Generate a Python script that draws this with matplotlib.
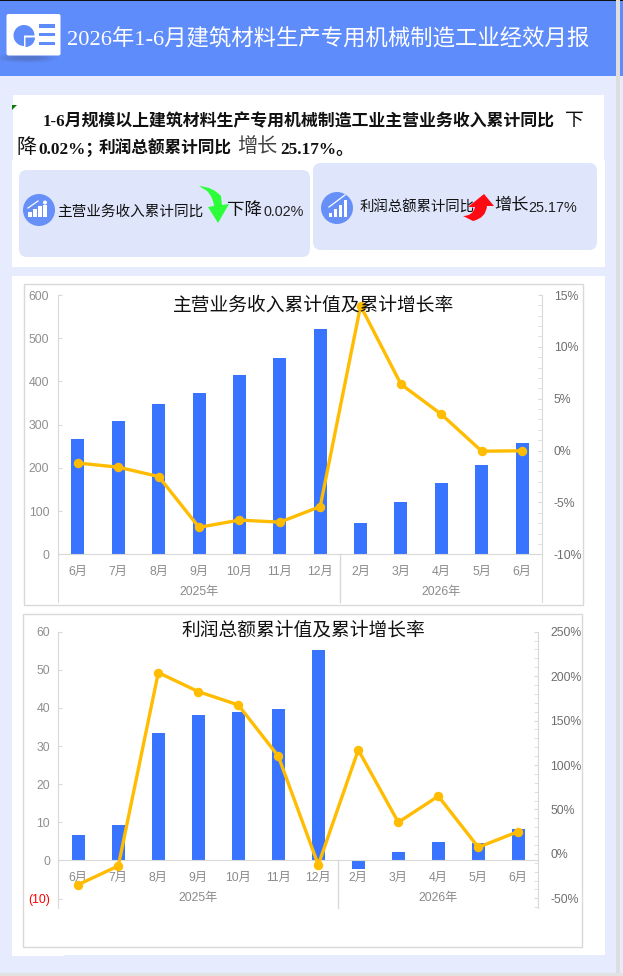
"""Monthly report page: header, summary cards and two combo charts."""
import matplotlib
matplotlib.use("Agg")
import matplotlib.pyplot as plt
from matplotlib.patches import Circle, FancyBboxPatch, PathPatch, Polygon, Rectangle, Wedge, Ellipse
from matplotlib.path import Path
from matplotlib.ticker import FixedLocator

W, H = 623, 976

months = ["6月", "7月", "8月", "9月", "10月", "11月", "12月", "2月", "3月", "4月", "5月", "6月"]
years = ["2025年", "2026年"]

revenue = [267, 308.5, 348, 373, 415, 454, 521, 72.5, 121, 165, 207, 257.5]
revenue_growth = [-1.2, -1.6, -2.5, -7.4, -6.7, -6.9, -5.4, 13.95, 6.4, 3.5, -0.06, -0.02]
revenue_ticks = [0, 100, 200, 300, 400, 500, 600]
revenue_tick_labels = ["0", "100", "200", "300", "400", "500", "600"]
revenue_growth_ticks = [-10, -5, 0, 5, 10, 15]

profit = [6.65, 9.3, 33.4, 38.2, 38.9, 39.7, 55.2, -2.3, 2.2, 4.8, 4.55, 8.2]
profit_growth = [-34.5, -13.5, 204, 182.6, 167.6, 110, -12.4, 117, 35.6, 65, 7.5, 25.17]
profit_ticks = [-10, 0, 10, 20, 30, 40, 50, 60]
profit_tick_labels = ["(10)", "0", "10", "20", "30", "40", "50", "60"]
profit_growth_ticks = [-50, 0, 50, 100, 150, 200, 250]

PAGE = "#E6ECFE"
HEADER = "#5F8CFB"
CARD = "#DFE6FC"
ICON = "#6690F8"
BAR = "#3874FF"
LINE = "#FFBC00"
AXIS = "#D9D9D9"

SERIF = ["Liberation Serif", "Noto Sans CJK SC"]
SANS = ["Liberation Sans", "Noto Sans CJK SC"]

plt.rcParams["font.family"] = SANS
plt.rcParams["axes.unicode_minus"] = False

fig = plt.figure(figsize=(W / 100, H / 100), dpi=100, facecolor=PAGE)

# page layer, in pixels with y pointing down
bg = fig.add_axes([0, 0, 1, 1], zorder=0)
bg.set_xlim(0, W)
bg.set_ylim(H, 0)
bg.axis("off")


def rect(x0, y0, x1, y1, color, **kw):
    bg.add_patch(Rectangle((x0, y0), x1 - x0, y1 - y0, facecolor=color, edgecolor="none", **kw))


def card(x0, y0, x1, y1):
    r = 8
    bg.add_patch(FancyBboxPatch((x0 + r, y0 + r), x1 - x0 - 2 * r, y1 - y0 - 2 * r,
                                boxstyle=f"round,pad={r},rounding_size={r}",
                                facecolor=CARD, edgecolor="none"))


def label(x, y, s, size, family=SANS, color="#111111", ha="left", weight="normal"):
    bg.text(x, y + 1.5, s, fontsize=size, family=family, color=color, ha=ha, va="center", weight=weight)


# header band
rect(0, 0, W, 76, HEADER)
rect(0, 0, W, 1.2, "#111111")
for i, a in enumerate([0.05, 0.08, 0.10, 0.12]):
    bg.add_patch(Ellipse((27, 58), 62 - i * 10, 10 - i * 2, facecolor="#404a70", alpha=a, edgecolor="none"))

# logo
bg.add_patch(FancyBboxPatch((8, 15.5), 51, 38.5, boxstyle="round,pad=1.5,rounding_size=2",
                            facecolor="white", edgecolor="none"))
bg.add_patch(Wedge((24, 35.5), 10.5, 90, 360, facecolor=HEADER, edgecolor="none"))
bg.add_patch(Wedge((25.5, 37.5), 9.5, 0, 90, facecolor=HEADER, edgecolor="none"))
for y in (26, 34.5, 43.5):
    rect(39, y - 1.6, 55, y + 1.6, HEADER)

label(67, 38.5, "2026年1-6月建筑材料生产专用机械制造工业经效月报", 16.1, SERIF, "white")

# white panels
rect(13, 95, 604, 165, "white")
rect(12, 160, 605, 267, "white")
rect(12, 276, 605, 955, "white")
rect(12, 955, 64, 956, "white")
bg.add_patch(Polygon([(12, 105), (17, 105), (12, 110)], facecolor="#0A7A0A", edgecolor="none"))

# intro paragraph
label(43, 121, "1-6月规模以上建筑材料生产专用机械制造工业主营业务收入累计同比", 12.2, SERIF, weight="bold")
label(565, 120, "下", 13.5, SERIF, "#111111")
label(16, 147, "降", 14.5, SERIF, "#111111")
label(38, 148, "0.02%；", 12.4, SERIF, weight="bold")
label(99, 148, "利润总额累计同比", 12, SERIF, weight="bold")
label(237, 146, "增长", 14.5, SERIF, "#444444")
label(280, 148, "25.17%。", 12.4, SERIF, weight="bold")

# summary cards
card(19, 170, 310, 257)
card(313, 163, 597, 250)

bg.add_patch(Circle((39, 210), 16, facecolor=ICON, edgecolor="none"))
for x0, y0, y1 in [(28, 212, 216), (33, 209, 216), (38, 206, 216)]:
    rect(x0, y0, x0 + 3.6, y1 + 1, "white")
bg.add_patch(Circle((45, 202.5), 2, facecolor="white", edgecolor="none"))
rect(43, 205, 47, 217, "white")
bg.plot([28, 38], [208, 201], color="white", lw=0.9)
label(57.5, 210.5, "主营业务收入累计同比", 10.5)
bg.add_patch(PathPatch(Path(
    [(199, 186), (213, 187), (221, 196), (222, 205), (229, 204), (218, 223), (208, 207), (214, 206),
     (213, 197), (207, 191), (199, 186)],
    [Path.MOVETO, Path.CURVE3, Path.CURVE3, Path.LINETO, Path.LINETO, Path.LINETO, Path.LINETO, Path.LINETO,
     Path.CURVE3, Path.CURVE3, Path.CLOSEPOLY]), facecolor="#2CFF3A", edgecolor="none"))
label(227, 208.5, "下降", 12.6)
label(264, 211, "0.02%", 10.4, color="#222222")

bg.add_patch(Circle((337, 208), 16, facecolor=ICON, edgecolor="none"))
for x0, y0 in [(329, 213), (334, 209), (339, 205), (344, 200)]:
    rect(x0, y0, x0 + 3.2, 217, "white")
bg.plot([329, 345], [207, 195], color="white", lw=0.9)
label(360, 206, "利润总额累计同比", 10.4)
bg.add_patch(PathPatch(Path(
    [(463, 216), (473, 216), (475, 207), (468, 207), (484, 194), (494, 206), (487, 206),
     (486, 218), (473, 221), (463, 216)],
    [Path.MOVETO, Path.CURVE3, Path.CURVE3, Path.LINETO, Path.LINETO, Path.LINETO, Path.LINETO,
     Path.CURVE3, Path.CURVE3, Path.CLOSEPOLY]), facecolor="#FF0A14", edgecolor="none"))
label(494, 204, "增长", 12.4)
label(528, 206.5, "25.17%", 10.4, color="#222222")

# outer right and bottom strips
rect(616, 0, 620, 973, "#DEDEDE")
rect(0, 973, W, H, "#E2E2E2")


def draw_chart(box, axis_left, axis_right, y_top, y_zero, y_bottom, vals, rates,
               ticks, tick_labels, rate_ticks, rate_minor, rate_limits, bar_limit,
               title, title_xy, right_x):
    bg.add_patch(Rectangle((box[0], box[1]), box[2] - box[0], box[3] - box[1],
                           facecolor="white", edgecolor=AXIS, lw=1))

    ax = fig.add_axes([axis_left / W, 1 - y_bottom / H, (axis_right - axis_left) / W, (y_bottom - y_top) / H],
                      zorder=1)
    ax.patch.set_alpha(0)
    xs = list(range(len(months)))
    ax.bar(xs, vals, width=0.32, color=BAR, zorder=2)
    ax.set_xlim(-0.5, len(months) - 0.5)
    ax.set_ylim(*bar_limit)
    ax.spines["top"].set_visible(False)
    ax.spines["right"].set_visible(False)
    ax.spines["left"].set_color(AXIS)
    ax.spines["bottom"].set_color(AXIS)
    ax.spines["bottom"].set_position(("data", 0))
    ax.set_xticks(xs, months)
    ax.tick_params(axis="x", length=0, pad=8.5, labelsize=8.8, labelcolor="#8A8A8A")
    ax.set_yticks(ticks, tick_labels)
    ax.tick_params(axis="y", direction="in", length=3.2, color=AXIS, pad=6, labelsize=8.8, labelcolor="#8F8F8F")
    for t, s in zip(ax.get_yticklabels(), tick_labels):
        if s.startswith("("):
            t.set_color("#FF0000")

    # year band under the months
    ax.plot([6.5, 6.5], [bar_limit[0], 0], color=AXIS, lw=1, clip_on=False)
    year_y = y_zero + (y_bottom - y_zero) * 0.79 + 0.7
    for x, s in zip((3, 9), years):
        bg.text(axis_left + (x + 0.5) * (axis_right - axis_left) / len(months), year_y, s,
                fontsize=8.8, color="#8A8A8A", ha="center", va="center", zorder=5)

    ax2 = ax.twinx()
    ax2.set_zorder(2)
    ax2.patch.set_alpha(0)
    ax2.plot(xs, rates, color=LINE, lw=2.4, marker="o", ms=5.8, clip_on=False, solid_joinstyle="round")
    ax2.set_ylim(*rate_limits)
    for side in ("top", "left", "bottom"):
        ax2.spines[side].set_visible(False)
    ax2.spines["right"].set_color(AXIS)
    ax2.yaxis.set_major_locator(FixedLocator(rate_ticks))
    ax2.set_yticklabels([f"{v}%" for v in rate_ticks])
    ax2.yaxis.set_minor_locator(FixedLocator(rate_minor))
    ax2.tick_params(axis="y", which="both", direction="in", length=3.2, color=AXIS,
                    pad=right_x - axis_right, labelsize=8.8, labelcolor="#6E6E6E")

    fig.text(title_xy[0] / W, 1 - title_xy[1] / H, title, fontsize=13.5, color="#111111",
             ha="center", va="center", zorder=6)


draw_chart((24, 283.5, 583, 605), 57.7, 542.3, 295, 554.3, 601.7,
           revenue, revenue_growth, revenue_ticks, revenue_tick_labels,
           revenue_growth_ticks, list(range(-10, 16)), (-14.57, 15), (-109.7, 600),
           "主营业务收入累计值及累计增长率", (313.5, 306), 550.5)

draw_chart((23, 614, 582, 947), 58.3, 538.3, 631.7, 860.3, 907.7,
           profit, profit_growth, profit_ticks, profit_tick_labels,
           profit_growth_ticks, list(range(-60, 251, 10)), (-60.5, 250), (-12.4, 60),
           "利润总额累计值及累计增长率", (303.5, 631), 547)

fig.savefig("out.png", dpi=100, facecolor=PAGE)
